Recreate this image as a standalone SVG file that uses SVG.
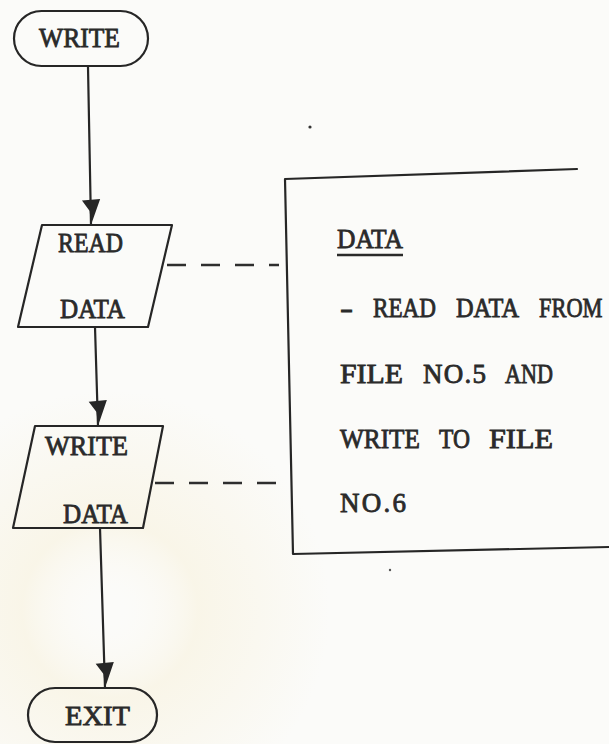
<svg xmlns="http://www.w3.org/2000/svg" width="609" height="744" viewBox="0 0 609 744">
  <defs>
    <style>
      .ink { fill: none; stroke: #262626; stroke-width: 2.2; stroke-linejoin: round; stroke-linecap: round; }
      .dash { fill: none; stroke: #2e2e2e; stroke-width: 2.6; stroke-dasharray: 19 15; }
      .label { font-family: "Liberation Serif", "Times New Roman", serif; font-size: 27px; fill: #2a2a2a; stroke: #2a2a2a; stroke-width: 0.8; }
    </style>
    <marker id="head" markerUnits="userSpaceOnUse" markerWidth="30" markerHeight="30" viewBox="-26 -14 28 28" refX="0" refY="0" orient="auto">
      <path d="M0,0 L-24,-9 L-23,8 L-13,1 Z" fill="#262626"/>
    </marker>
    <radialGradient id="glow" cx="0.5" cy="0.5" r="0.5">
      <stop offset="0" stop-color="#ffffff" stop-opacity="0"/>
      <stop offset="0.4" stop-color="#f6edcf" stop-opacity="0.4"/>
      <stop offset="1" stop-color="#f6edcf" stop-opacity="0"/>
    </radialGradient>
  </defs>

  <!-- paper -->
  <rect x="0" y="0" width="609" height="744" fill="#fbfbf9"/>
  <circle cx="110" cy="610" r="220" fill="url(#glow)"/>

  <!-- flow connectors and dashed annotation leaders -->
  <g id="connectors">
    <path class="ink" d="M88,67 L91,225" marker-end="url(#head)"/>
    <path class="ink" d="M95,327 L98,426" marker-end="url(#head)"/>
    <path class="ink" d="M100,528 L105,688" marker-end="url(#head)"/>
    <path class="dash" d="M167,265 L279,265"/>
    <path class="dash" d="M155,483 L279,483"/>
  </g>

  <g id="start">
    <rect class="ink" x="14" y="11" width="134" height="55" rx="27.5"/>
    <text class="label" x="39" y="47" textLength="81" lengthAdjust="spacingAndGlyphs">WRITE</text>
  </g>

  <g id="read-data">
    <path class="ink" d="M42,225 L172,225 L148,327 L18,327 Z"/>
    <text class="label" x="58" y="252" textLength="65" lengthAdjust="spacingAndGlyphs">READ</text>
    <text class="label" x="60" y="318" textLength="65" lengthAdjust="spacingAndGlyphs">DATA</text>
  </g>

  <g id="write-data">
    <path class="ink" d="M35,426 L163,426 L143,528 L13,528 Z"/>
    <text class="label" x="45" y="455" textLength="83" lengthAdjust="spacingAndGlyphs">WRITE</text>
    <text class="label" x="63" y="523" textLength="65" lengthAdjust="spacingAndGlyphs">DATA</text>
  </g>

  <g id="exit">
    <rect class="ink" x="28" y="688" width="129" height="54" rx="27"/>
    <text class="label" x="65" y="725" textLength="65" lengthAdjust="spacingAndGlyphs">EXIT</text>
  </g>

  <!-- annotation box; words set on a typewriter pitch -->
  <g id="note">
    <path class="ink" d="M577,169 L285,179 L293,554 L609,547"/>
    <text class="label" x="337" y="248" textLength="66" lengthAdjust="spacingAndGlyphs">DATA</text>
    <line x1="337" y1="255" x2="403" y2="255" stroke="#2a2a2a" stroke-width="2.6"/>

    <text class="label" x="340" y="317" textLength="13" lengthAdjust="spacingAndGlyphs">-</text>
    <text class="label" x="373" y="317" textLength="63" lengthAdjust="spacingAndGlyphs">READ</text>
    <text class="label" x="456" y="317" textLength="63" lengthAdjust="spacingAndGlyphs">DATA</text>
    <text class="label" transform="translate(539,317) scale(0.83,1)" x="0" y="0">FROM</text>

    <text class="label" x="340" y="383" textLength="63" lengthAdjust="spacingAndGlyphs">FILE</text>
    <text class="label" x="423" y="383" textLength="63" lengthAdjust="spacing">NO.5</text>
    <text class="label" x="505" y="383" textLength="48" lengthAdjust="spacingAndGlyphs">AND</text>

    <text class="label" x="340" y="448" textLength="80" lengthAdjust="spacingAndGlyphs">WRITE</text>
    <text class="label" x="439" y="448" textLength="31" lengthAdjust="spacingAndGlyphs">TO</text>
    <text class="label" x="489" y="448" textLength="64" lengthAdjust="spacingAndGlyphs">FILE</text>

    <text class="label" x="340" y="512" textLength="66" lengthAdjust="spacing">NO.6</text>
  </g>

  <!-- specks on the sheet -->
  <circle cx="310" cy="127" r="1.6" fill="#333"/>
  <circle cx="390" cy="570" r="1.2" fill="#555"/>
</svg>
